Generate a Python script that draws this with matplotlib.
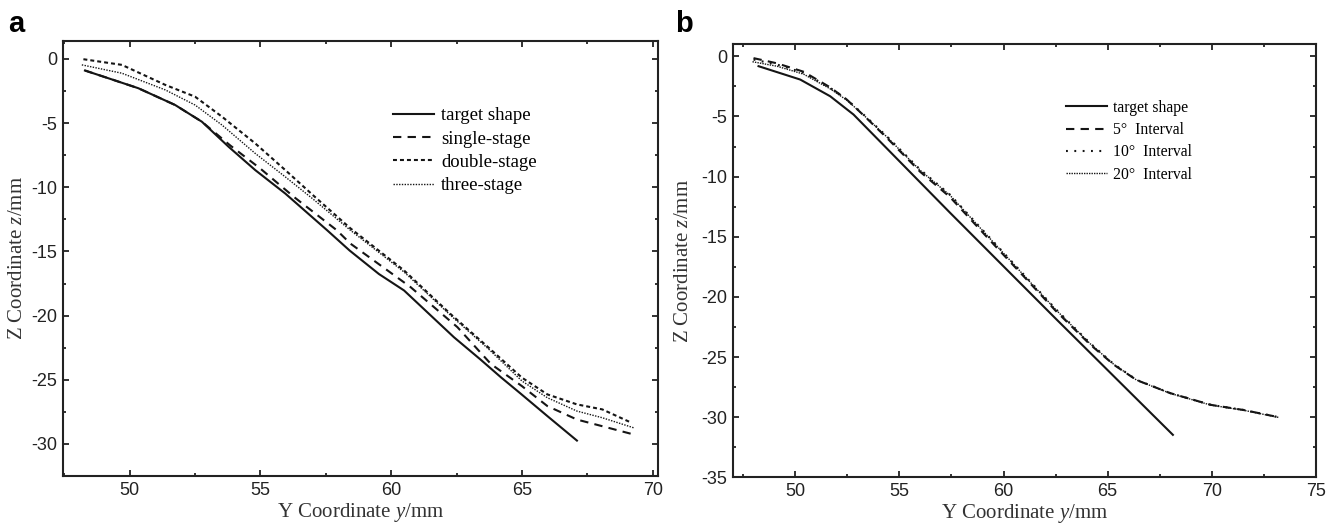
import matplotlib
matplotlib.use("Agg")
import matplotlib.pyplot as plt
from matplotlib.ticker import MultipleLocator

plt.rcParams['mathtext.fontset'] = 'custom'
plt.rcParams['mathtext.rm'] = 'Liberation Serif'
plt.rcParams['mathtext.it'] = 'Liberation Serif:italic'
plt.rcParams['axes.unicode_minus'] = False

# ---------------- Panel a data ----------------
a_target_y = [48.29, 49.18, 50.33, 51.74, 52.76, 53.78, 54.8, 55.95, 57.55, 58.41,
              59.53, 60.49, 62.4, 63.4, 64.19, 64.96, 65.97, 67.1]
a_target_z = [-0.9, -1.5, -2.28, -3.59, -4.89, -6.84, -8.66, -10.49, -13.35, -14.93,
              -16.76, -18.04, -21.69, -23.4, -24.8, -26.1, -27.83, -29.74]

a_single_y = [48.29, 49.18, 50.33, 51.74, 52.76, 53.85, 55.0, 56.31, 57.92, 58.44, 60.74, 62.53,
              63.81, 65.0, 65.97, 67.1, 68.07, 69.28]
a_single_z = [-0.9, -1.5, -2.28, -3.59, -4.89, -6.75, -8.55, -10.8, -13.35, -14.39, -17.78, -20.9,
              -23.77, -25.5, -27.05, -28.1, -28.62, -29.27]

a_double_y = [48.23, 49.7, 51.36, 52.5, 53.53, 54.8, 55.95, 57.0, 58.44, 60.49, 62.28, 63.72,
              65.0, 65.97, 67.1, 68.07, 69.11]
a_double_z = [-0.02, -0.46, -2.02, -2.94, -4.5, -6.58, -8.66, -10.6, -13.2, -16.48, -19.9, -22.49,
              -24.84, -26.14, -26.92, -27.31, -28.28]

a_three_y = [48.17, 49.7, 51.36, 52.5, 53.53, 54.8, 55.95, 57.0, 58.44, 60.49, 62.28, 63.72,
             65.0, 65.97, 67.1, 68.07, 69.28]
a_three_z = [-0.46, -1.11, -2.41, -3.59, -5.15, -7.36, -9.19, -10.9, -13.35, -16.6, -20.0, -22.6,
             -25.1, -26.4, -27.44, -27.96, -28.75]

# ---------------- Panel b data ----------------
b_target_y = [48.24, 50.24, 51.68, 52.8, 57.43, 62.5, 68.13]
b_target_z = [-0.82, -1.93, -3.32, -4.84, -13.0, -21.8, -31.47]

b_int5_y = [48.0, 49.12, 50.4, 51.68, 52.48, 53.28, 54.4, 56.0, 57.43, 59.51, 61.0, 62.5,
            64.15, 65.3, 66.39, 68.0, 69.96, 71.51, 73.2]
b_int5_z = [-0.15, -0.58, -1.28, -2.58, -3.6, -4.9, -6.78, -9.6, -11.7, -15.6, -18.35, -21.15,
            -23.95, -25.65, -26.92, -28.0, -28.98, -29.4, -30.0]

b_int10_y = [48.0, 49.12, 50.4, 51.68, 52.48, 53.28, 54.4, 56.0, 57.43, 59.51, 61.0, 62.5,
             64.15, 65.3, 66.39, 68.0, 69.96, 71.51, 73.2]
b_int10_z = [-0.27, -0.68, -1.37, -2.62, -3.59, -4.84, -6.65, -9.42, -11.5, -15.4, -18.2, -21.0,
             -23.84, -25.6, -26.9, -28.0, -28.98, -29.4, -30.0]

b_int20_y = [47.95, 49.12, 50.4, 51.68, 52.48, 53.28, 54.4, 56.0, 57.43, 59.51, 61.0, 62.5,
             64.15, 65.3, 66.39, 68.0, 69.96, 71.51, 73.2]
b_int20_z = [-0.45, -0.82, -1.48, -2.7, -3.65, -4.88, -6.7, -9.48, -11.55, -15.45, -18.25, -21.05,
             -23.88, -25.62, -26.92, -28.02, -29.0, -29.42, -30.02]

a_labels = ['target shape', 'single-stage', 'double-stage', 'three-stage']
b_labels = ['target shape', '5°  Interval', '10°  Interval', '20°  Interval']

fig = plt.figure(figsize=(13.36, 5.24), dpi=100)
W, H = 1336, 524
axa = fig.add_axes([63 / W, 1 - 476 / H, 595 / W, 435 / H])
axb = fig.add_axes([732.7 / W, 1 - 477.3 / H, 583.3 / W, 433 / H])

c = '#151515'
axa.plot(a_target_y, a_target_z, color=c, lw=1.5, ls='-', label=a_labels[0])
axa.plot(a_single_y, a_single_z, color=c, lw=1.5, ls=(0, (4, 3)), label=a_labels[1])
axa.plot(a_double_y, a_double_z, color=c, lw=1.5, ls=(0, (1.9, 1.45)), label=a_labels[2])
axa.plot(a_three_y, a_three_z, color=c, lw=1.0, ls=(0, (1, 1)), label=a_labels[3])

axb.plot(b_target_y, b_target_z, color=c, lw=1.5, ls='-', label=b_labels[0])
axb.plot(b_int5_y, b_int5_z, color=c, lw=1.5, ls=(0, (4, 3)), label=b_labels[1])
axb.plot(b_int10_y, b_int10_z, color=c, lw=1.5, ls=(0, (0.9, 3.1)), label=b_labels[2])
axb.plot(b_int20_y, b_int20_z, color=c, lw=1.0, ls=(0, (1, 0.8)), label=b_labels[3])

axa.set_xlim(47.45, 70.2)
axa.set_ylim(-32.5, 1.4)
axb.set_xlim(47.0, 75.0)
axb.set_ylim(-35.0, 1.0)

for ax, ylp in ((axa, 3), (axb, 6)):
    ax.xaxis.set_major_locator(MultipleLocator(5))
    ax.xaxis.set_minor_locator(MultipleLocator(2.5))
    ax.yaxis.set_major_locator(MultipleLocator(5))
    ax.yaxis.set_minor_locator(MultipleLocator(2.5))
    ax.tick_params(which='both', direction='in', top=True, right=True, width=1.3,
                   colors='#222222')
    ax.tick_params(which='major', length=4.5, labelsize=13, pad=4)
    ax.tick_params(which='minor', length=2.5)
    for lab in ax.get_xticklabels() + ax.get_yticklabels():
        lab.set_fontfamily('Liberation Sans')
    for s in ax.spines.values():
        s.set_linewidth(1.5)
        s.set_color('#222222')
    ax.set_xlabel('Y Coordinate $\\it{y}$/mm', fontsize=15, family='Liberation Serif',
                  labelpad=1.5, color='#333333')
    ax.set_ylabel('Z Coordinate $\\it{z}$/mm', fontsize=15, family='Liberation Serif',
                  labelpad=ylp, color='#333333')

axa.legend(loc='upper left', bbox_to_anchor=(0.555, 0.848), frameon=False, handlelength=2.2,
           handletextpad=0.35, labelspacing=0.33, borderpad=0, borderaxespad=0,
           prop={'family': 'Liberation Serif', 'size': 13.5})
axb.legend(loc='upper left', bbox_to_anchor=(0.571, 0.872), frameon=False, handlelength=2.65,
           handletextpad=0.35, labelspacing=0.4, borderpad=0, borderaxespad=0,
           prop={'family': 'Liberation Serif', 'size': 11.3})

fig.text(8 / W, 1 - 32 / H, 'a', fontsize=21, fontweight='bold', family='Liberation Sans')
fig.text(675 / W, 1 - 32 / H, 'b', fontsize=21, fontweight='bold', family='Liberation Sans')

fig.savefig('out.png', dpi=100)
